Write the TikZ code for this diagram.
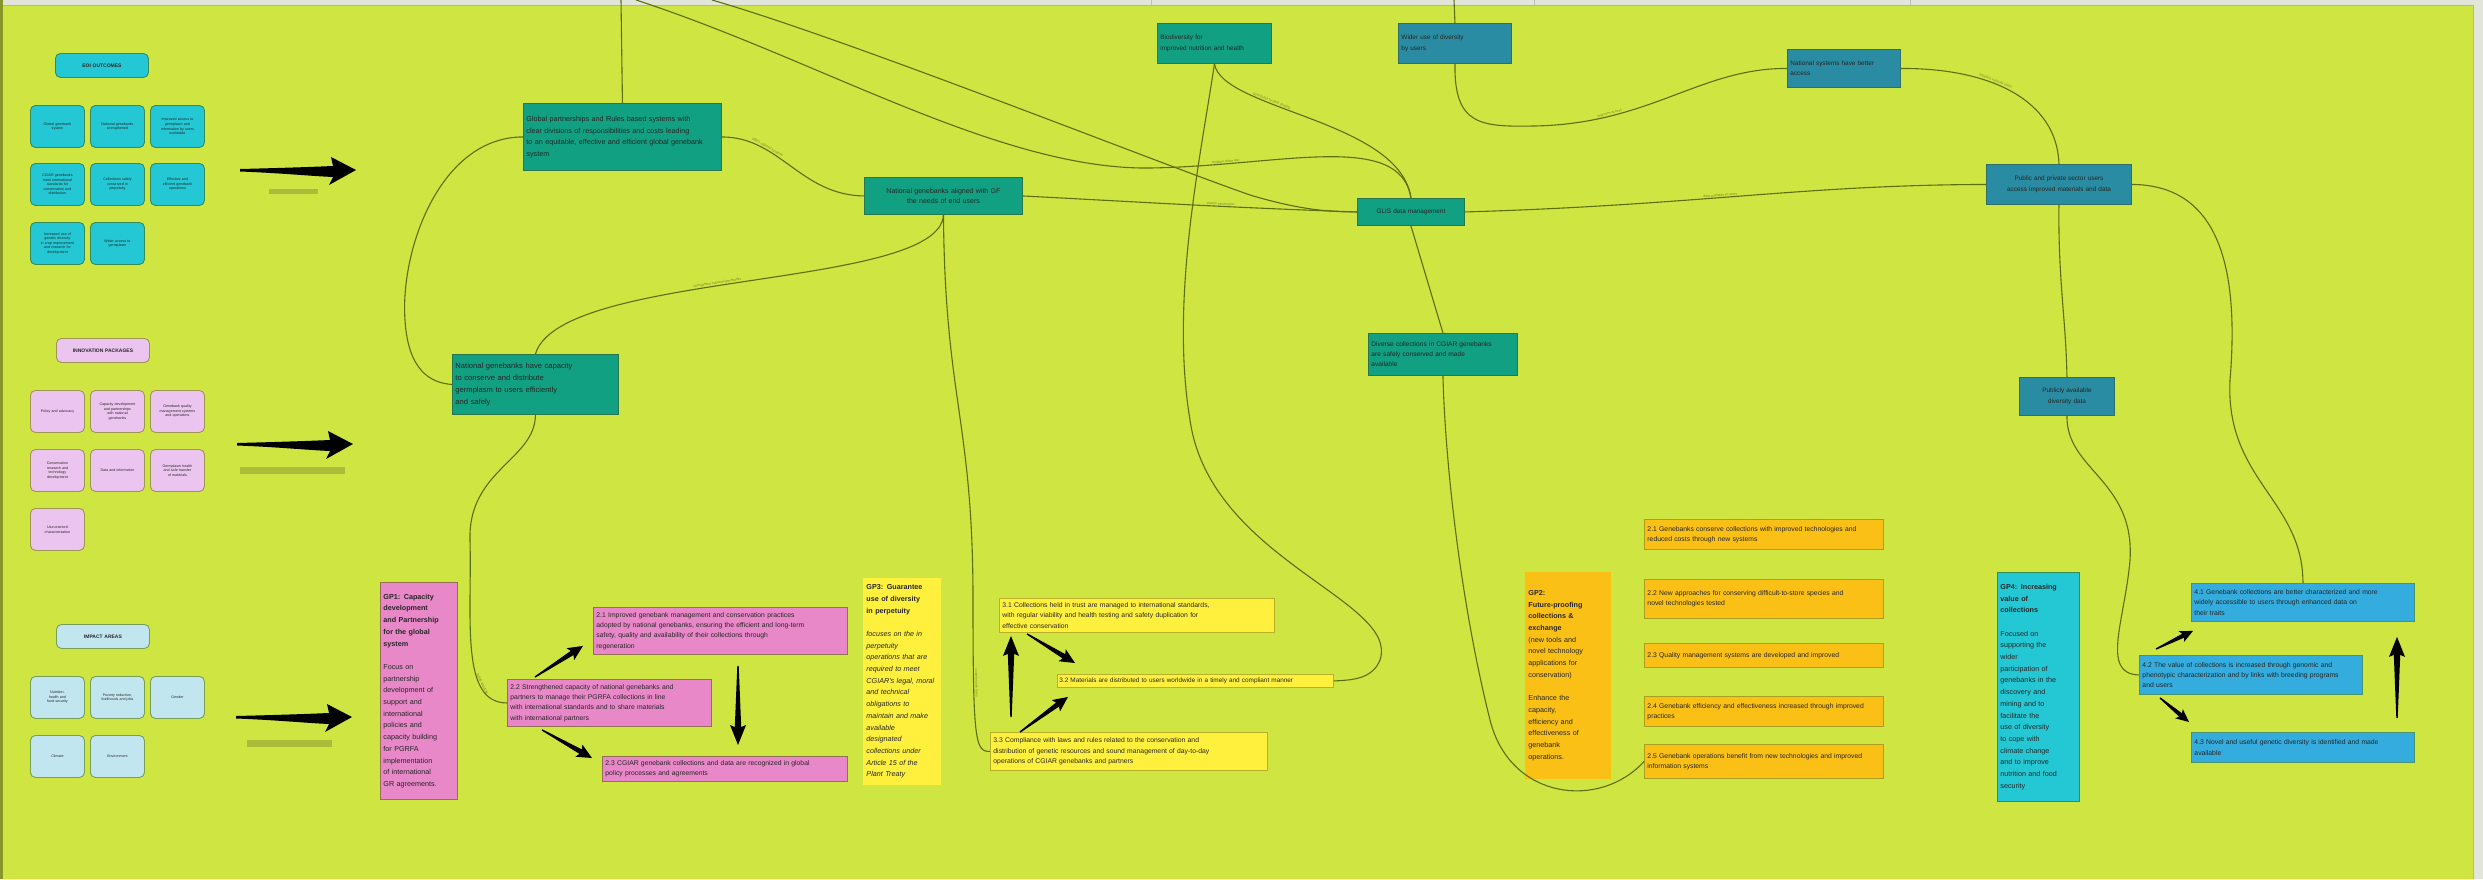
\documentclass[tikz,border=0pt]{standalone}
\usepackage{fontspec}
\setmainfont{Liberation Sans}
\usetikzlibrary{calc}

\definecolor{canvas}{RGB}{207,229,65}
\definecolor{tealfill}{RGB}{18,160,130}
\definecolor{tealedge}{RGB}{40,118,78}
\definecolor{btfill}{RGB}{42,140,162}
\definecolor{btedge}{RGB}{50,110,105}
\definecolor{linkcol}{RGB}{92,110,18}
\definecolor{labcol}{RGB}{118,138,36}
\definecolor{cyanfill}{RGB}{35,200,212}
\definecolor{cyanedge}{RGB}{52,140,92}
\definecolor{lpinkfill}{RGB}{236,196,240}
\definecolor{lpinkedge}{RGB}{160,150,84}
\definecolor{lbluefill}{RGB}{194,230,240}
\definecolor{lblueedge}{RGB}{118,160,88}
\definecolor{pinkfill}{RGB}{232,136,200}
\definecolor{pinkedge}{RGB}{150,112,84}
\definecolor{yelfill}{RGB}{255,240,62}
\definecolor{yeledge}{RGB}{186,176,40}
\definecolor{orfill}{RGB}{250,192,22}
\definecolor{oredge}{RGB}{168,160,30}
\definecolor{bluefill}{RGB}{52,172,222}
\definecolor{blueedge}{RGB}{72,148,112}
\definecolor{barcol}{RGB}{172,188,58}
\definecolor{framecol}{RGB}{226,230,218}

\tikzset{
  every node/.style={text=black!85},
  tbox/.style={rectangle, anchor=north west, inner sep=3pt, line width=0.9pt, align=left},
  topteal/.style={tbox, fill=tealfill, draw=tealedge},
  topblue/.style={tbox, fill=btfill, draw=btedge},
  legbox/.style={rectangle, rounded corners=5pt, anchor=north west, line width=0.9pt,
    minimum width=54pt, minimum height=42pt, text width=48pt, inner sep=2pt,
    align=center, font=\fontsize{3.6}{4.6}\selectfont},
  leghead/.style={legbox, minimum width=93pt, minimum height=24pt, text width=88pt,
    font=\fontsize{5}{6}\selectfont\bfseries},
  cyanleg/.style={legbox, fill=cyanfill, draw=cyanedge},
  pinkleg/.style={legbox, fill=lpinkfill, draw=lpinkedge},
  blueleg/.style={legbox, fill=lbluefill, draw=lblueedge},
  gpbox/.style={tbox, align=left, font=\fontsize{7.2}{11.7}\selectfont},
  outbox/.style={tbox, font=\fontsize{6.8}{10.3}\selectfont},
  pinkout/.style={outbox, fill=pinkfill, draw=pinkedge},
  yelout/.style={outbox, fill=yelfill, draw=yeledge},
  orout/.style={outbox, fill=orfill, draw=oredge},
  blueout/.style={outbox, fill=bluefill, draw=blueedge},
  link/.style={draw=linkcol, line width=1.1pt},
  lab/.style={font=\fontsize{3.4}{4}\selectfont, text=labcol, sloped, inner sep=0.6pt, above},
  arrowhead len/.store in=\ahl,
  arrowhead half/.store in=\ahw,
  arrow shaft/.store in=\asw,
  arrowhead len=15pt, arrowhead half=7pt, arrow shaft=2.5pt,
  fat/.style={fill=black, to path={
    let \p1=(\tikztostart), \p2=(\tikztotarget),
        \n1={atan2(\y2-\y1,\x2-\x1)}, \n2={veclen(\x2-\x1,\y2-\y1)} in
    ($(\p1)+(\n1+90:0.7pt)$)
    -- ($(\p1)+(\n1:{\n2-\ahl+2pt})+(\n1+90:\asw)$)
    -- ($(\p1)+(\n1:{\n2-\ahl})+(\n1+90:\ahw)$)
    -- (\p2)
    -- ($(\p1)+(\n1:{\n2-\ahl})+(\n1-90:\ahw)$)
    -- ($(\p1)+(\n1:{\n2-\ahl+2pt})+(\n1-90:\asw)$)
    -- ($(\p1)+(\n1-90:0.7pt)$) -- cycle}},
  bigfat/.style={fat, arrowhead len=20pt, arrowhead half=8pt, arrow shaft=3.2pt},
  smallfat/.style={fat, arrowhead len=13pt, arrowhead half=6pt, arrow shaft=2.2pt},
  legarrow/.pic={
    \fill[black] (0,-1) .. controls (40,-2) and (70,-3) .. (93,-4)
      -- (91,-13) -- (116,0) -- (89,15) -- (93,7)
      .. controls (70,6) and (40,3) .. (0,1.5) -- cycle;}
}

\begin{document}
\hyphenpenalty=10000
\exhyphenpenalty=10000
\begin{tikzpicture}[x=1pt,y=-1pt]
\useasboundingbox (0,0) rectangle (2483,879);
\fill[canvas] (0,0) rectangle (2483,879);
% board frame: top ruler strip, left and right margins
\fill[framecol] (0,0) rectangle (2483,5);
\draw[black!30, line width=0.6pt] (0,5) -- (2473,5);
\foreach \xx in {1151,1534,1910} \draw[black!25, line width=0.5pt] (\xx,0) -- (\xx,5);
\fill[black!35!canvas] (0,0) rectangle (3,879);
\fill[framecol] (2473,0) rectangle (2483,879);
\draw[black!30, line width=0.6pt] (2473,5) -- (2473,879);

% ---------------- legend: end of initiative outcomes ----------------
\node[cyanleg, leghead] (hEoi) at (55,53) {EOI OUTCOMES};
\node[cyanleg] (e1) at (30,105) {Global genebank\\system};
\node[cyanleg] (e2) at (90,105) {National genebanks\\strengthened};
\node[cyanleg] (e3) at (150,105) {Improved access to\\germplasm and\\information by users\\worldwide};
\node[cyanleg] (e4) at (30,163) {CGIAR genebanks\\meet international\\standards for\\conservation and\\distribution};
\node[cyanleg] (e5) at (90,163) {Collections safely\\conserved in\\perpetuity};
\node[cyanleg] (e6) at (150,163) {Effective and\\efficient genebank\\operations};
\node[cyanleg] (e7) at (30,222) {Increased use of\\genetic diversity\\in crop improvement\\and research for\\development};
\node[cyanleg] (e8) at (90,222) {Wider access to\\germplasm};
\pic at (240,170) {legarrow};
\fill[barcol] (269,189) rectangle (318,194);

% ---------------- legend: innovation packages ----------------
\node[pinkleg, leghead] (hIp) at (56,338) {INNOVATION PACKAGES};
\node[pinkleg] (i1) at (30,390) {Policy and advocacy};
\node[pinkleg] (i2) at (90,390) {Capacity development\\and partnerships\\with national\\genebanks};
\node[pinkleg] (i3) at (150,390) {Genebank quality\\management systems\\and operations};
\node[pinkleg] (i4) at (30,449) {Conservation\\research and\\technology\\development};
\node[pinkleg] (i5) at (90,449) {Data and information};
\node[pinkleg] (i6) at (150,449) {Germplasm health\\and safe transfer\\of materials};
\node[pinkleg] (i7) at (30,508) {Use-oriented\\characterization};
\pic at (237,444) {legarrow};
\fill[barcol] (240,467) rectangle (345,474);

% ---------------- legend: impact areas ----------------
\node[blueleg, leghead] (hIa) at (56,624) {IMPACT AREAS};
\node[blueleg] (a1) at (30,676) {Nutrition,\\health and\\food security};
\node[blueleg] (a2) at (90,676) {Poverty reduction,\\livelihoods and jobs};
\node[blueleg] (a3) at (150,676) {Gender};
\node[blueleg] (a4) at (30,735) {Climate};
\node[blueleg] (a5) at (90,735) {Environment};
\pic at (236,717) {legarrow};
\fill[barcol] (247,740) rectangle (332,747);

% ---------------- outcome network ----------------
\node[topteal, minimum width=198pt, minimum height=67pt, text width=192pt,
      font=\fontsize{7.2}{11.5}\selectfont] (glob) at (523,103)
  {Global partnerships and Rules based systems with\\
   clear divisions of responsibilities and costs leading\\
   to an equitable, effective and efficient global genebank\\
   system};
\node[topteal, minimum width=158pt, minimum height=37pt, text width=152pt, align=center,
      font=\fontsize{7}{10.5}\selectfont] (nga) at (864,177)
  {National genebanks aligned with GF\\the needs of end users};
\node[topteal, minimum width=114pt, minimum height=40pt, text width=108pt,
      font=\fontsize{6.4}{10.5}\selectfont] (bio) at (1157,23)
  {Biodiversity for\\improved nutrition and health};
\node[topblue, minimum width=113pt, minimum height=40pt, text width=107pt,
      font=\fontsize{6.4}{10.5}\selectfont] (gtop) at (1398,23)
  {Wider use of diversity\\by users};
\node[topblue, minimum width=113pt, minimum height=38pt, text width=107pt,
      font=\fontsize{6.4}{10.5}\selectfont] (ns) at (1787,49)
  {National systems have better\\access};
\node[topblue, minimum width=145pt, minimum height=40pt, text width=139pt, align=center,
      font=\fontsize{6.4}{10.5}\selectfont] (pp) at (1986,164)
  {Public and private sector users\\access improved materials and data};
\node[topteal, minimum width=107pt, minimum height=27pt, text width=101pt, align=center,
      font=\fontsize{6.4}{10}\selectfont] (glis) at (1357,198)
  {GLIS data management};
\node[topteal, minimum width=149pt, minimum height=42pt, text width=143pt,
      font=\fontsize{6.6}{10}\selectfont] (div) at (1368,333)
  {Diverse collections in CGIAR genebanks\\are safely conserved and made\\available};
\node[topteal, minimum width=166pt, minimum height=60pt, text width=160pt,
      font=\fontsize{7.6}{12}\selectfont] (ngm) at (452,354)
  {National genebanks have capacity\\to conserve and distribute\\germplasm to users efficiently\\and safely};
\node[topblue, minimum width=95pt, minimum height=38pt, text width=89pt, align=center,
      font=\fontsize{6.4}{10.5}\selectfont] (ps) at (2019,377)
  {Publicly available\\diversity data};

% ---------------- GP1: capacity development ----------------
\node[gpbox, fill=pinkfill, draw=pinkedge, minimum width=77pt, minimum height=217pt, text width=71pt] (gp1) at (380,582)
  {\textbf{GP1: Capacity}\\\textbf{development}\\\textbf{and Partnership}\\\textbf{for the global}\\\textbf{system}\\[11.7pt]
   Focus on\\partnership\\development of\\support and\\international\\policies and\\capacity building\\for PGRFA\\implementation\\of international\\GR agreements.};
\node[pinkout, minimum width=254pt, minimum height=47pt, text width=248pt] (p21) at (593,607)
  {2.1 Improved genebank management and conservation practices\\
   adopted by national genebanks, ensuring the efficient and long-term\\
   safety, quality and availability of their collections through\\
   regeneration};
\node[pinkout, minimum width=204pt, minimum height=47pt, text width=198pt] (p22) at (507,679)
  {2.2 Strengthened capacity of national genebanks and\\
   partners to manage their PGRFA collections in line\\
   with international standards and to share materials\\
   with international partners};
\node[pinkout, minimum width=245pt, minimum height=25pt, text width=239pt] (p23) at (602,756)
  {2.3 CGIAR genebank collections and data are recognized in global\\
   policy processes and agreements};

% ---------------- GP3: in perpetuity ----------------
\node[gpbox, fill=yelfill, draw=yelfill, minimum width=77pt, minimum height=206pt, text width=71pt] (gp3) at (863,578)
  {\textbf{GP3: Guarantee}\\\textbf{use of diversity}\\\textbf{in perpetuity}\\[11.7pt]
   \itshape focuses on the in\\perpetuity\\operations that are\\required to meet\\CGIAR's legal, moral\\and technical\\obligations to\\maintain and make\\available\\designated\\collections under\\Article 15 of the\\Plant Treaty};
\node[yelout, minimum width=275pt, minimum height=34pt, text width=269pt] (y31) at (999,598)
  {3.1 Collections held in trust are managed to international standards,\\
   with regular viability and health testing and safety duplication for\\
   effective conservation};
\node[yelout, minimum width=276pt, minimum height=13pt, text width=272pt, inner sep=1.5pt,
      font=\fontsize{6.4}{7.5}\selectfont] (y32) at (1057,674)
  {3.2 Materials are distributed to users worldwide in a timely and compliant manner};
\node[yelout, minimum width=277pt, minimum height=38pt, text width=271pt] (y33) at (990,732)
  {3.3 Compliance with laws and rules related to the conservation and\\
   distribution of genetic resources and sound management of day-to-day\\
   operations of CGIAR genebanks and partners};

% ---------------- GP2: future-proofing ----------------
\node[gpbox, fill=orfill, draw=orfill, minimum width=85pt, minimum height=206pt, text width=79pt] (gp2) at (1525,572)
  {\textbf{GP2:}\\\textbf{Future-proofing}\\\textbf{collections \&}\\\textbf{exchange}\\
   (new tools and\\novel technology\\applications for\\conservation)\\[11.7pt]
   Enhance the\\capacity,\\efficiency and\\effectiveness of\\genebank\\operations.};
\node[orout, minimum width=239pt, minimum height=30pt, text width=233pt] (o21) at (1644,519)
  {2.1 Genebanks conserve collections with improved technologies and\\
   reduced costs through new systems};
\node[orout, minimum width=239pt, minimum height=39pt, text width=233pt] (o22) at (1644,579)
  {2.2 New approaches for conserving difficult-to-store species and\\
   novel technologies tested};
\node[orout, minimum width=239pt, minimum height=24pt, text width=233pt] (o23) at (1644,643)
  {2.3 Quality management systems are developed and improved};
\node[orout, minimum width=239pt, minimum height=30pt, text width=233pt] (o24) at (1644,696)
  {2.4 Genebank efficiency and effectiveness increased through improved\\
   practices};
\node[orout, minimum width=239pt, minimum height=34pt, text width=233pt] (o25) at (1644,744)
  {2.5 Genebank operations benefit from new technologies and improved\\
   information systems};

% ---------------- GP4: value of collections ----------------
\node[gpbox, fill=cyanfill, draw=cyanedge, minimum width=82pt, minimum height=229pt, text width=76pt] (gp4) at (1997,572)
  {\textbf{GP4: Increasing}\\\textbf{value of}\\\textbf{collections}\\[11.7pt]
   Focused on\\supporting the\\wider\\participation of\\genebanks in the\\discovery and\\mining and to\\facilitate the\\use of diversity\\to cope with\\climate change\\and to improve\\nutrition and food\\security};
\node[blueout, minimum width=223pt, minimum height=38pt, text width=217pt] (b41) at (2191,583)
  {4.1 Genebank collections are better characterized and more\\
   widely accessible to users through enhanced data on\\
   their traits};
\node[blueout, minimum width=223pt, minimum height=39pt, text width=217pt] (b42) at (2139,655)
  {4.2 The value of collections is increased through genomic and\\
   phenotypic characterization and by links with breeding programs\\
   and users};
\node[blueout, minimum width=223pt, minimum height=30pt, text width=217pt] (b43) at (2191,732)
  {4.3 Novel and useful genetic diversity is identified and made\\
   available};

% ---------------- thick arrows between outputs ----------------
\coordinate (pa1) at ($(p22.north west)+(28,-2)$);
\coordinate (pa2) at ($(p21.south west)+(-10,-9)$);
\coordinate (pb1) at ($(p22.south west)+(35,3)$);
\coordinate (pb2) at ($(p23.north west)+(-10,2)$);
\coordinate (pc1) at ($(p21.south west)+(145,11)$);
\coordinate (pc2) at ($(p23.north west)+(136,-11)$);
\fill[fat] (pa1) to (pa2);
\fill[fat] (pb1) to (pb2);
\fill[bigfat] (pc1) to (pc2);

\coordinate (ya1) at ($(y33.north west)+(21,-15)$);
\coordinate (ya2) at ($(y31.south west)+(12,3)$);
\coordinate (yb1) at ($(y31.south west)+(28,1)$);
\coordinate (yb2) at ($(y32.north west)+(18,-11)$);
\coordinate (yc1) at ($(y33.north west)+(30,0)$);
\coordinate (yc2) at ($(y32.south west)+(11,9)$);
\fill[bigfat] (ya1) to (ya2);
\fill[fat] (yb1) to (yb2);
\fill[fat] (yc1) to (yc2);

\coordinate (ba1) at ($(b42.north west)+(17,-6)$);
\coordinate (ba2) at ($(b41.south west)+(2,9)$);
\coordinate (bb1) at ($(b42.south west)+(21,3)$);
\coordinate (bb2) at ($(b43.north west)+(-2,-10)$);
\coordinate (bc1) at ($(b43.north west)+(206,-14)$);
\coordinate (bc2) at ($(b41.south west)+(206,15)$);
\fill[smallfat] (ba1) to (ba2);
\fill[smallfat] (bb1) to (bb2);
\fill[bigfat] (bc1) to (bc2);

% ---------------- pathway links ----------------
\coordinate (top1) at (621,0);
\coordinate (top2) at (636,0);
\coordinate (top3) at (712,0);
\coordinate (top4) at (1454,0);

\draw[link] (top1) -- (glob.north);
\draw[link] (top4) -- (gtop.north);
\draw[link] (top2) .. controls (820,60) and (1000,170) .. (1150,168)
  .. controls (1280,166) and (1400,130) .. (glis.north)
  node[lab, pos=0.2] {enables wider use};
\draw[link] (top3) .. controls (850,40) and (1150,160) .. (1250,195)
  .. controls (1300,210) and (1330,212) .. (glis.west);
\draw[link] (bio.south) .. controls (1222,110) and (1400,120) .. (glis.north)
  node[lab, pos=0.35] {contributes to data sharing};
\draw[link] (bio.south) .. controls (1200,160) and (1170,300) .. (1190,420)
  .. controls (1210,560) and (1400,600) .. (1380,660)
  .. controls (1372,680) and (1350,680) .. (y32.east);
\draw[link] (glob.west) .. controls (440,137) and (400,250) .. (405,320)
  .. controls (408,370) and (430,383) .. (ngm.west);
\draw[link] (ngm.south) .. controls (535,460) and (468,470) .. (470,540)
  .. controls (472,620) and (460,703) .. (p22.west)
  node[lab, pos=0.72] {builds capacity};
\draw[link] (nga.south) .. controls (940,290) and (560,270) .. (ngm.north)
  node[lab, pos=0.55] {strengthens national genebanks};
\draw[link] (glob.east) .. controls (780,137) and (800,195) .. (nga.west)
  node[lab, pos=0.3] {aligns national systems};
\draw[link] (nga.east) to[out=-3, in=178]
  node[lab, pos=0.6] {shares information} (glis.west);
\draw[link] (nga.south) .. controls (945,400) and (973,420) .. (973,600)
  .. controls (973,740) and (975,752) .. (y33.west)
  node[lab, pos=0.25] {complies with rules};
\draw[link] (gtop.south) .. controls (1454,125) and (1480,127) .. (1534,126)
  .. controls (1650,124) and (1700,68) .. (ns.west)
  node[lab, pos=0.25] {improves access};
\draw[link] (ns.east) .. controls (1990,68) and (2057,100) .. (pp.north)
  node[lab, pos=0.4] {supports national users};
\draw[link] (glis.east) .. controls (1700,205) and (1800,185) .. (pp.west)
  node[lab, pos=0.45] {data available to users};
\draw[link] (glis.south) -- (div.north);
\draw[link] (div.south) .. controls (1445,460) and (1460,600) .. (1490,720)
  .. controls (1510,800) and (1600,810) .. (o25.west);
\draw[link] (pp.east) .. controls (2215,185) and (2240,260) .. (2230,380)
  .. controls (2225,480) and (2303,500) .. (b41.north);
\draw[link] (pp.south) .. controls (2058,280) and (2066,320) .. (ps.north);
\draw[link] (ps.south) .. controls (2066,470) and (2135,480) .. (2130,560)
  .. controls (2125,620) and (2100,674) .. (b42.west);
\end{tikzpicture}
\end{document}
